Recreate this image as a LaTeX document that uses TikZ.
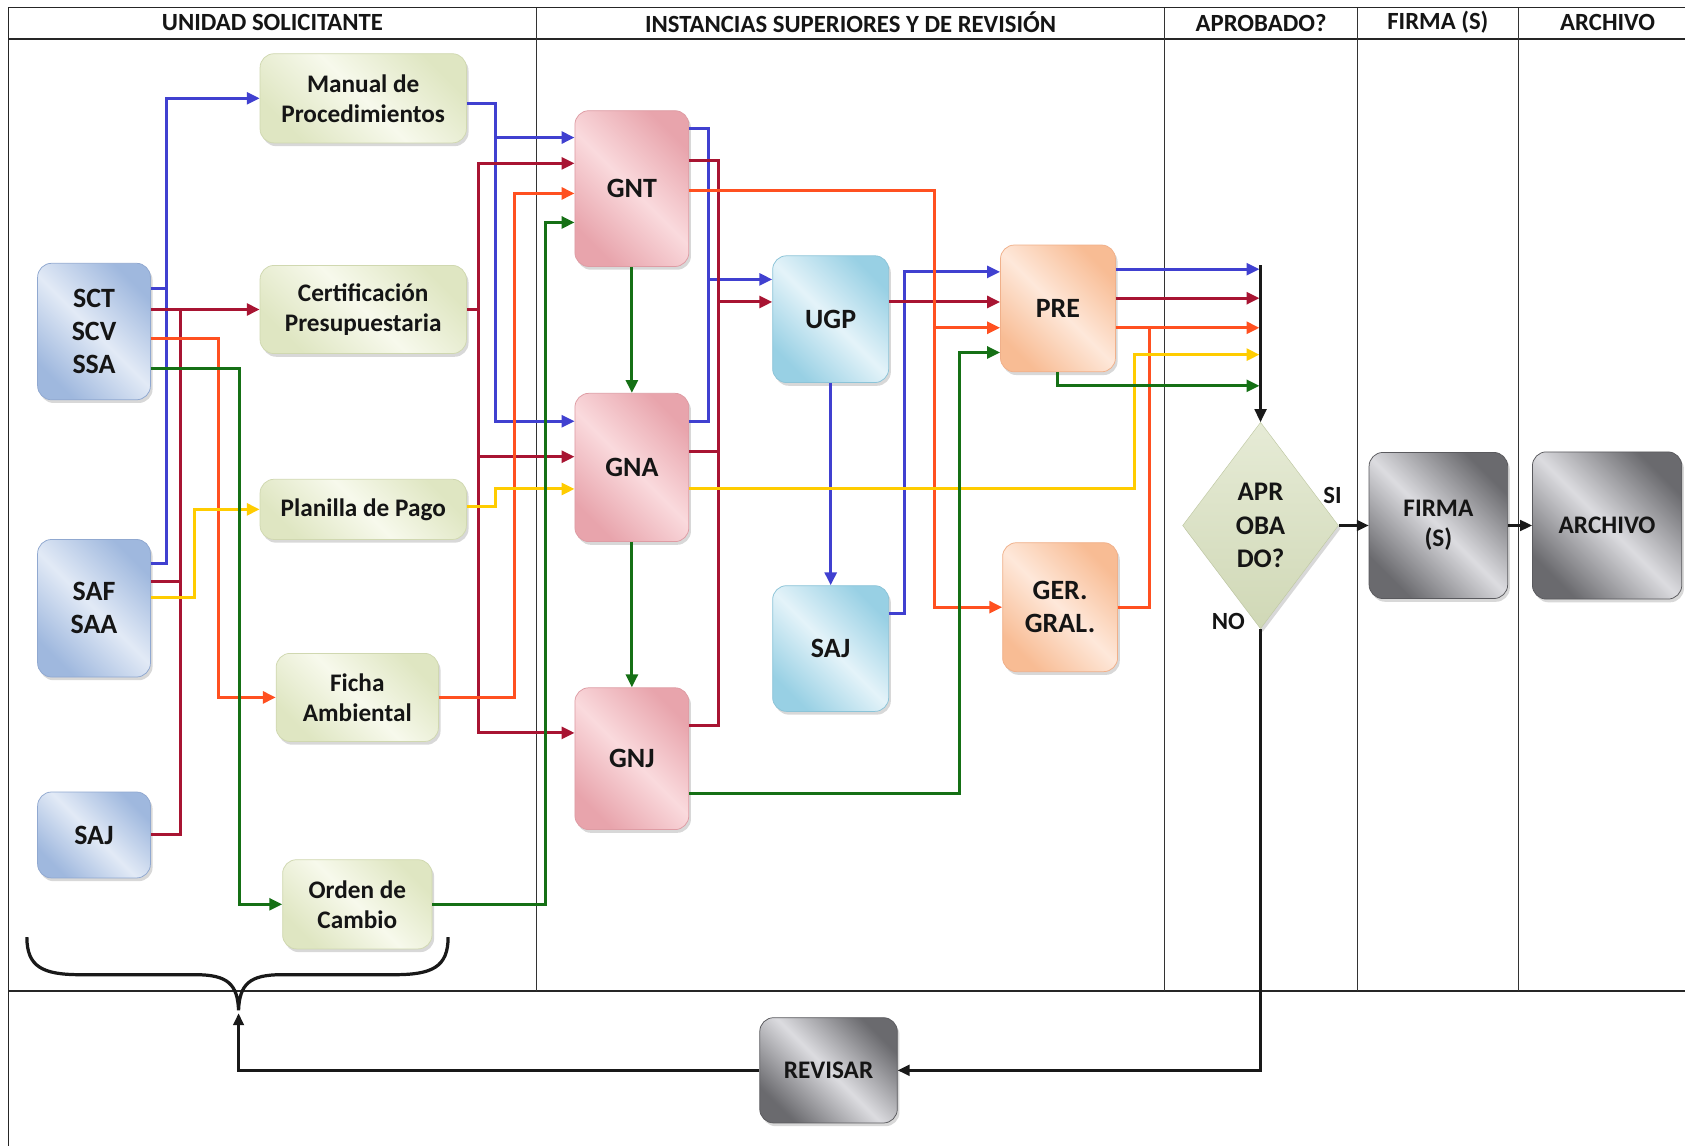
\documentclass[tikz,border=0pt]{standalone}
\usepackage{fontspec}
\setmainfont{Carlito}
\usetikzlibrary{arrows.meta,shapes.geometric,shadows,calc}

\definecolor{cb}{HTML}{4040D0}
\definecolor{cr}{HTML}{A81432}
\definecolor{co}{HTML}{FF5020}
\definecolor{cy}{HTML}{FFCC00}
\definecolor{cg}{HTML}{157015}
\definecolor{ink}{HTML}{151515}
% box palettes: edge tone, centre tone, outline
\definecolor{blE}{HTML}{9FB8DE}\definecolor{blM}{HTML}{E2EAF6}\definecolor{blD}{HTML}{90A8D0}
\definecolor{pkE}{HTML}{E8A4AC}\definecolor{pkM}{HTML}{FADADD}\definecolor{pkD}{HTML}{DE9CA4}
\definecolor{cyE}{HTML}{98D0E4}\definecolor{cyM}{HTML}{E4F3F9}\definecolor{cyD}{HTML}{8CC4D8}
\definecolor{orE}{HTML}{F8BC94}\definecolor{orM}{HTML}{FEE8DA}\definecolor{orD}{HTML}{F0B08A}
\definecolor{grE}{HTML}{DFE6C2}\definecolor{grM}{HTML}{F7F9EC}\definecolor{grD}{HTML}{D0D8B0}
\definecolor{gyE}{HTML}{6A6A6E}\definecolor{gyM}{HTML}{DCDCE0}\definecolor{gyD}{HTML}{5A5A5E}
\definecolor{dmT}{HTML}{E6EBD6}\definecolor{dmB}{HTML}{D0D8B6}\definecolor{dmD}{HTML}{BFC8A2}

\begin{document}
\begin{tikzpicture}[x=1pt,y=-1pt,
  frame/.style={line width=1.6pt, draw=black!85},
  lanediv/.style={line width=1.1pt, draw=black!80},
  hdr/.style={font=\bfseries\fontsize{23}{26}\selectfont, text=ink},
  lbl/.style={font=\bfseries\fontsize{23}{28}\selectfont, text=ink},
  box/.style={rounded corners=13pt, align=center, inner sep=0pt, text=ink,
    font=\bfseries\fontsize{23.5}{28}\selectfont, line width=0.7pt,
    drop shadow={shadow xshift=2pt, shadow yshift=-3pt, opacity=0.3}},
  bigtxt/.style={font=\bfseries\fontsize{26}{31}\selectfont},
  diag/.style={shading angle=-45},
  bluebox/.style={box, bigtxt, draw=blD, left color=blE, right color=blE, middle color=blM, diag},
  greenbox/.style={box, draw=grD, left color=grE, right color=grE, middle color=grM, diag},
  pinkbox/.style={box, bigtxt, draw=pkD, left color=pkE, right color=pkE, middle color=pkM, diag},
  cyanbox/.style={box, bigtxt, draw=cyD, left color=cyE, right color=cyE, middle color=cyM, diag},
  orangebox/.style={box, bigtxt, draw=orD, left color=orE, right color=orE, middle color=orM, diag},
  graybox/.style={box, draw=gyD, left color=gyE, right color=gyE, middle color=gyM, diag},
  decide/.style={diamond, minimum width=145pt, minimum height=192pt, inner sep=0pt, align=center,
    draw=dmD, top color=dmT, bottom color=dmB, text=ink,
    font=\bfseries\fontsize{25}{31}\selectfont,
    drop shadow={shadow xshift=2pt, shadow yshift=-3pt, opacity=0.3}},
  wire/.style={line width=2.8pt},
  arr/.style={-{Triangle[length=12pt,width=11pt]}},
  kl/.style={line width=2.2pt, draw=black!90},
  arrk/.style={-{Triangle[length=11pt,width=10pt]}},
]
\useasboundingbox (0,0) rectangle (1568,1066);
\fill[white] (0,0) rectangle (1568,1066);

% swimlane frame
\draw[frame] (8,1066) -- (8,7) -- (1568,7);
\draw[frame] (8,36) -- (1568,36);
\draw[frame] (8,922) -- (1568,922);
\foreach \x in {499,1084,1263,1413} \draw[lanediv] (\x,7) -- (\x,922);

% lane titles
\node[hdr] (h1) at (253.5,21) {UNIDAD SOLICITANTE};
\node[hdr] (h2) at (791.5,21) {INSTANCIAS SUPERIORES Y DE REVISIÓN};
\node[hdr] (h3) at (1173.5,21) {APROBADO?};
\node[hdr] (h4) at (1338,21) {FIRMA (S)};
\node[hdr] (h5) at (1496,21) {ARCHIVO};

% requesting units
\node[bluebox, minimum width=105pt, minimum height=127pt] (sct) at (87.5,308.5) {SCT\\SCV\\SSA};
\node[bluebox, minimum width=105pt, minimum height=128pt] (saf) at (87.5,566) {SAF\\SAA};
\node[bluebox, minimum width=105pt, minimum height=80pt] (sajl) at (87.5,777) {SAJ};

% documents
\node[greenbox, minimum width=192pt, minimum height=83pt] (man) at (338,91.5) {Manual de\\Procedimientos};
\node[greenbox, minimum width=192pt, minimum height=82pt] (cert) at (338,288) {Certificación\\Presupuestaria};
\node[greenbox, minimum width=192pt, minimum height=56pt] (plan) at (338,474) {Planilla de Pago};
\node[greenbox, minimum width=151pt, minimum height=82pt] (ficha) at (332.5,649) {Ficha\\Ambiental};
\node[greenbox, minimum width=139pt, minimum height=83pt] (orden) at (332.5,841.5) {Orden de\\Cambio};

% reviewing instances
\node[pinkbox, minimum width=106pt, minimum height=145pt] (gnt) at (588,175.5) {GNT};
\node[pinkbox, minimum width=106pt, minimum height=138pt] (gna) at (588,435) {GNA};
\node[pinkbox, minimum width=106pt, minimum height=132pt] (gnj) at (588,706) {GNJ};
\node[cyanbox, minimum width=108pt, minimum height=118pt] (ugp) at (773,297) {UGP};
\node[cyanbox, minimum width=108pt, minimum height=117pt] (sajm) at (773,603.5) {SAJ};
\node[orangebox, minimum width=107pt, minimum height=118pt] (pre) at (984.5,287) {PRE};
\node[orangebox, minimum width=107pt, minimum height=120pt] (ger) at (986.5,565) {GER.\\GRAL.};

% decision, signature, archive, revision
\node[decide] (dia) at (1173,489) {APR\\OBA\\DO?};
\node[graybox, minimum width=129pt, minimum height=136pt] (firma) at (1338.5,489) {FIRMA\\(S)};
\node[graybox, minimum width=139pt, minimum height=137pt] (arch) at (1495.5,489) {ARCHIVO};
\node[graybox, minimum width=128pt, minimum height=98pt] (rev) at (771,996) {REVISAR};

\node[lbl] (si) at (1240,461) {SI};
\node[lbl] (no) at (1143,578) {NO};

% brace gathering the requesting units
\draw[line width=3pt, draw=black!90] (25,872) .. controls (25,900) and (40,907) .. (75,907)
  -- (182,907) .. controls (212,907) and (221,916) .. (222,940)
  .. controls (223,916) and (232,907) .. (262,907)
  -- (367,907) .. controls (402,907) and (417,900) .. (417,872);
\coordinate (brtip) at (222,943);

% ---- blue flow
\coordinate (b1) at (155,268);
\draw[wire,cb,arr] ([yshift=40.5pt]sct.east) -- (b1) |- (man.west);
\draw[wire,cb] ([yshift=42pt]saf.east) -| (b1);
\coordinate (b2) at (461,128);
\draw[wire,cb,arr] ([yshift=-4.5pt]man.east) -| (b2) |- ([yshift=43pt]gna.west);
\draw[wire,cb,arr] (b2) -- ([yshift=47.5pt]gnt.west);
\coordinate (b3) at (659,260);
\draw[wire,cb] ([yshift=55.5pt]gnt.east) -| (b3) |- ([yshift=43pt]gna.east);
\draw[wire,cb,arr] (b3) -- ([yshift=37pt]ugp.west);
\draw[wire,cb,arr] (ugp.south) -- (sajm.north);
\draw[wire,cb,arr] ([yshift=32.5pt]sajm.east) -| (842,253) -- ([yshift=34pt]pre.west);
\coordinate (eB) at (1172,250.5);
\draw[wire,cb,arr] ([yshift=36.5pt]pre.east) -- (eB);

% ---- dark red flow
\coordinate (r1) at (168,288);
\draw[wire,cr,arr] (sct.east |- cert.west) -- (cert.west);
\draw[wire,cr] (r1) |- (sajl.east);
\draw[wire,cr] ([yshift=25pt]saf.east) -| (r1);
\coordinate (r2) at (445,288);
\draw[wire,cr,arr] (cert.east) -- (r2) |- ([yshift=23.5pt]gnt.west);
\draw[wire,cr,arr] (r2) |- ([yshift=24pt]gnj.west);
\coordinate (r3) at (445,425);
\draw[wire,cr,arr] (r3) -- ([yshift=10pt]gna.west);
\coordinate (r4) at (669,281);
\draw[wire,cr] ([yshift=26.5pt]gnt.east) -| (r4) |- ([yshift=31pt]gnj.east);
\draw[wire,cr] ([yshift=15pt]gna.east) -| (r4);
\draw[wire,cr,arr] (r4) -- ([yshift=16pt]ugp.west);
\draw[wire,cr,arr] ([yshift=16pt]ugp.east) -- ([yshift=6pt]pre.west);
\coordinate (eR) at (1172,277.5);
\draw[wire,cr,arr] ([yshift=9.5pt]pre.east) -- (eR);

% ---- orange flow
\draw[wire,co,arr] ([yshift=-6.5pt]sct.east) -- (203,315) |- (ficha.west);
\draw[wire,co,arr] (ficha.east) -| (479,180) -- ([yshift=-4.5pt]gnt.west);
\coordinate (o1) at (870,305);
\draw[wire,co,arr] ([yshift=-2pt]gnt.east) -| (o1) |- (ger.west);
\draw[wire,co,arr] (o1) -- ([yshift=-18pt]pre.west);
\coordinate (o2) at (1070,305);
\draw[wire,co] (ger.east) -| (o2);
\coordinate (eO) at (1172,305);
\draw[wire,co,arr] ([yshift=-18pt]pre.east) -- (eO);

% ---- yellow flow
\draw[wire,cy,arr] ([yshift=10pt]saf.east) -| (181,474) -- (plan.west);
\draw[wire,cy,arr] ([yshift=3pt]plan.east) -| (461,455) -- ([yshift=-20pt]gna.west);
\coordinate (eY) at (1172,330);
\draw[wire,cy,arr] ([yshift=-20pt]gna.east) -| (1056,330) -- (eY);

% ---- green flow
\draw[wire,cg,arr] ([yshift=-34.5pt]sct.east) -| (223,841.5) -- (orden.west);
\draw[wire,cg,arr] (orden.east) -| (508,207) -- ([yshift=-31.5pt]gnt.west);
\draw[wire,cg,arr] (gnt.south) -- (gna.north);
\draw[wire,cg,arr] (gna.south) -- (gnj.north);
\draw[wire,cg,arr] ([yshift=-32pt]gnj.east) -| (893,328) -- ([yshift=-41pt]pre.west);
\coordinate (eG) at (1172,359);
\draw[wire,cg,arr] (pre.south) |- (eG);

% ---- decision flow
\coordinate (ktop) at (1173,247);
\draw[kl,arr] (ktop) -- (dia.north);
\draw[kl,arrk] (dia.east) -- (firma.west);
\draw[kl,arrk] (firma.east) -- (arch.west);
\draw[kl,arrk] (dia.south) |- (rev.east);
\draw[kl,arrk] (rev.west) -| (brtip);
\end{tikzpicture}
\end{document}
